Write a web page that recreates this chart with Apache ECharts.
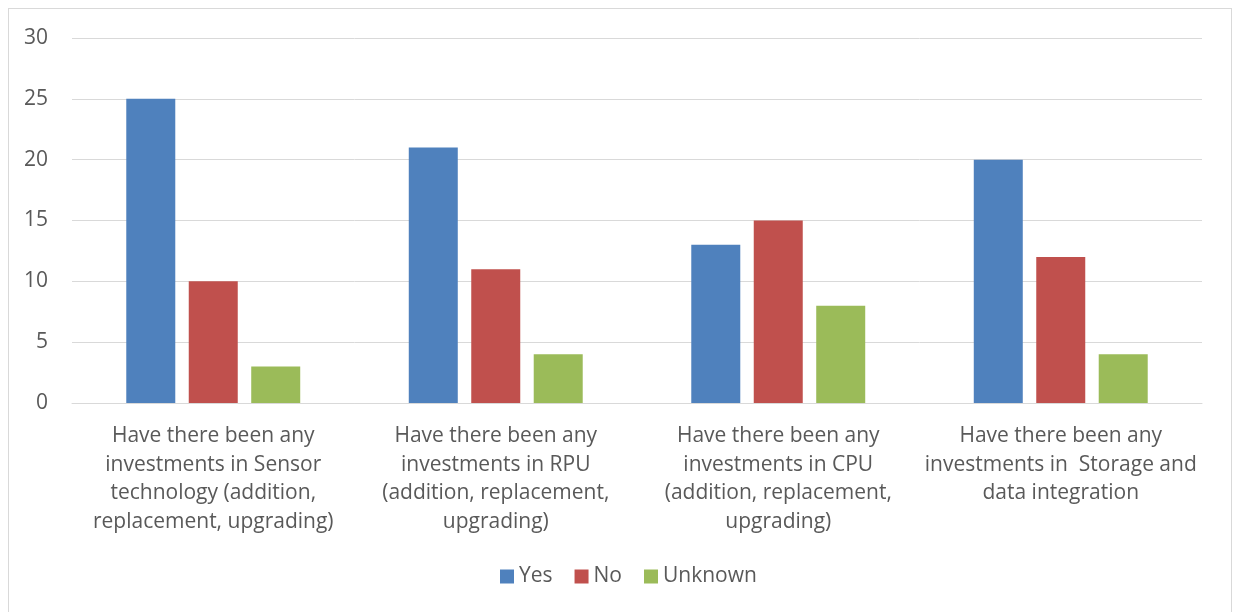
<!DOCTYPE html>
<html><head><meta charset="utf-8">
<script src="https://cdn.jsdelivr.net/npm/echarts@6/dist/echarts.min.js"></script>
<style>html,body{margin:0;padding:0;background:#fff}#frame{position:absolute;left:8px;top:8px;width:1224px;height:620px;border:1px solid #d9d9d9;box-sizing:border-box}#c{position:absolute;left:0;top:0;width:1233px;height:612px}</style>
</head><body><div id="frame"></div><div id="c"></div>
<script>
const categories = [
  "Have there been any\ninvestments in Sensor\ntechnology (addition,\nreplacement, upgrading)",
  "Have there been any\ninvestments in RPU\n(addition, replacement,\nupgrading)",
  "Have there been any\ninvestments in CPU\n(addition, replacement,\nupgrading)",
  "Have there been any\ninvestments in  Storage and\ndata integration"
];
const yesValues = [25, 21, 13, 20];
const noValues = [10, 11, 15, 12];
const unknownValues = [3, 4, 8, 4];
const seriesNames = ["Yes", "No", "Unknown"];
const yTicks = [0, 5, 10, 15, 20, 25, 30];

const font = "'Open Sans', 'Noto Sans', sans-serif";
const chart = echarts.init(document.getElementById('c'));
chart.setOption({
  animation: false,
  color: ['#4f81bd', '#c0504d', '#9bbb59'],
  grid: {left: 72, right: 31, top: 38, bottom: 209, containLabel: false},
  legend: {
    bottom: 20, left: 495, itemWidth: 14, itemHeight: 14, itemGap: 22,
    icon: 'rect',
    textStyle: {fontFamily: font, fontSize: 21, color: '#595959'},
    data: seriesNames
  },
  xAxis: {
    type: 'category', data: categories,
    axisLine: {lineStyle: {color: '#d9d9d9', width: 1}},
    axisTick: {show: false},
    axisLabel: {interval: 0, margin: 19, fontFamily: font, fontSize: 21, color: '#595959', lineHeight: 28.5, align: 'center'}
  },
  yAxis: {
    type: 'value', min: yTicks[0], max: yTicks[yTicks.length - 1], interval: 5,
    axisLine: {show: false}, axisTick: {show: false},
    splitLine: {lineStyle: {color: '#d9d9d9', width: 1}},
    axisLabel: {margin: 24, fontFamily: font, fontSize: 21, color: '#595959'}
  },
  series: [
    {name: seriesNames[0], type: 'bar', data: yesValues, barWidth: 49, barGap: '27.5%'},
    {name: seriesNames[1], type: 'bar', data: noValues, barWidth: 49, barGap: '27.5%'},
    {name: seriesNames[2], type: 'bar', data: unknownValues, barWidth: 49, barGap: '27.5%'}
  ]
});
</script></body></html>
